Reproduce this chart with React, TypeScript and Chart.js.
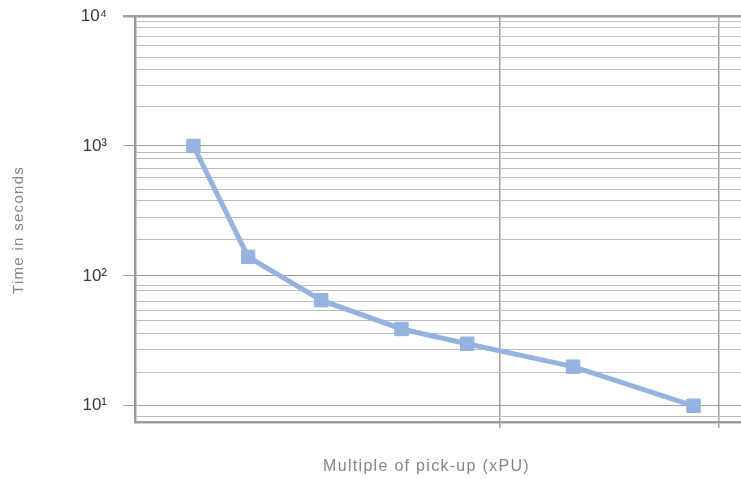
import React, { useEffect, useRef } from 'react';
import { Chart, registerables } from 'chart.js';

Chart.register(...registerables);

// Data
const multiples = [1.6, 3.1, 5.1, 7.3, 9.1, 12, 15.3];
const seconds = [1000, 140, 65, 39, 30, 20, 10];

// Axis ticks
const yMajorTicks = [10, 100, 1000, 10000];
const yMinorTicks = [8.2, 18, 27, 36, 45, 54, 64, 77, 85, 190, 280, 380, 465, 570, 670, 800, 890, 2000, 2900, 3900, 4800, 5900, 6900, 8200, 9000];
const yTickLabels = ['10\u00b9', '10\u00b2', '10\u00b3', '10\u2074'];
const xGridTicks = [10, 16];
const xRange = [0, 16.6];
const yRange = [7.5, 10000];

const xTitle = 'Multiple of pick-up (xPU)';
const yTitle = 'Time in seconds';

const spacingPlugin = {
  id: 'letterSpacing',
  beforeUpdate(chart: any) {
    chart.ctx.letterSpacing = '1.3px';
  },
  beforeDraw(chart: any) {
    chart.ctx.letterSpacing = '1.3px';
  },
  afterDatasetsDraw(chart: any) {
    chart.ctx.letterSpacing = '0px';
  },
  afterDraw(chart: any) {
    chart.ctx.letterSpacing = '0px';
  },
};

const zeroPadding = (scale: any) => {
  scale.paddingTop = 0;
  scale.paddingBottom = 0;
  scale.paddingLeft = 0;
  scale.paddingRight = 0;
};

export default function App() {
  const canvasRef = useRef<HTMLCanvasElement | null>(null);

  useEffect(() => {
    const canvas = canvasRef.current;
    if (!canvas) return;
    const allY = [...yMajorTicks, ...yMinorTicks].sort((a, b) => a - b);
    const isMajor = (v: number) => yMajorTicks.includes(v);

    const chart = new Chart(canvas, {
      type: 'line',
      data: {
        datasets: [
          {
            data: multiples.map((m, i) => ({ x: m, y: seconds[i] })),
            borderColor: 'rgb(149,179,222)',
            backgroundColor: 'rgb(149,179,222)',
            borderWidth: 5,
            tension: 0,
            pointStyle: 'rect',
            pointRadius: 9.5,
            pointBorderWidth: 1,
            pointBackgroundColor: 'rgb(149,179,222)',
            pointBorderColor: 'rgb(149,179,222)',
          },
        ],
      },
      options: {
        responsive: false,
        animation: false,
        devicePixelRatio: 1,
        layout: { autoPadding: false, padding: { top: 16, right: 0, left: 0, bottom: 0 } },
        plugins: {
          legend: { display: false },
          tooltip: { enabled: false },
        },
        scales: {
          x: {
            type: 'linear',
            min: xRange[0],
            max: xRange[1],
            afterBuildTicks: (scale: any) => {
              scale.ticks = xGridTicks.map((v) => ({ value: v }));
            },
            afterFit: (scale: any) => {
              scale.height = 57;
              zeroPadding(scale);
            },
            grid: {
              color: '#a0a0a0',
              lineWidth: 1.5,
              tickLength: 6,
              tickColor: '#a0a0a0',
              tickWidth: 1.5,
            },
            border: { display: true, color: '#9b9b9b', width: 2.5 },
            ticks: {
              autoSkip: false,
              maxRotation: 0,
              callback: () => '',
            },
            title: {
              display: true,
              text: xTitle + '    ',
              color: '#858585',
              font: { family: "'Liberation Sans', Arial, sans-serif", size: 16 },
              padding: { top: 0, bottom: 3 },
            },
          },
          y: {
            type: 'logarithmic',
            min: yRange[0],
            max: yRange[1],
            afterBuildTicks: (scale: any) => {
              scale.ticks = allY.map((v) => ({ value: v, major: false }));
            },
            afterFit: (scale: any) => {
              scale.width = 135;
              zeroPadding(scale);
            },
            grid: {
              color: (ctx: any) => (ctx.tick && isMajor(ctx.tick.value) ? '#9d9d9d' : '#bcbcbc'),
              lineWidth: (ctx: any) => (ctx.tick && ctx.tick.value === 10000 ? 2.5 : 1),
              tickLength: 12,
              tickColor: (ctx: any) => (ctx.tick && isMajor(ctx.tick.value) ? '#a0a0a0' : 'rgba(0,0,0,0)'),
            },
            border: { display: true, color: '#9b9b9b', width: 2.5 },
            ticks: {
              autoSkip: false,
              z: 1,
              padding: 16,
              color: '#3a3a3a',
              font: { family: "'Liberation Sans', Arial, sans-serif", size: 17 },
              callback: (value: any) => {
                const idx = yMajorTicks.indexOf(Number(value));
                return idx >= 0 ? yTickLabels[idx] : '';
              },
            },
            title: {
              display: true,
              text: yTitle + '    ',
              color: '#858585',
              font: { family: "'Liberation Sans', Arial, sans-serif", size: 15 },
              padding: { top: 10, bottom: 0 },
            },
          },
        },
      },
      plugins: [spacingPlugin],
    } as any);

    return () => {
      chart.destroy();
    };
  }, []);

  return (
    <div
      style={{
        position: 'fixed',
        left: 0,
        top: 0,
        width: 741,
        height: 479,
        overflow: 'hidden',
        background: '#ffffff',
      }}
    >
      <canvas ref={canvasRef} width={741} height={479} style={{ width: 741, height: 479, display: 'block' }} />
    </div>
  );
}
